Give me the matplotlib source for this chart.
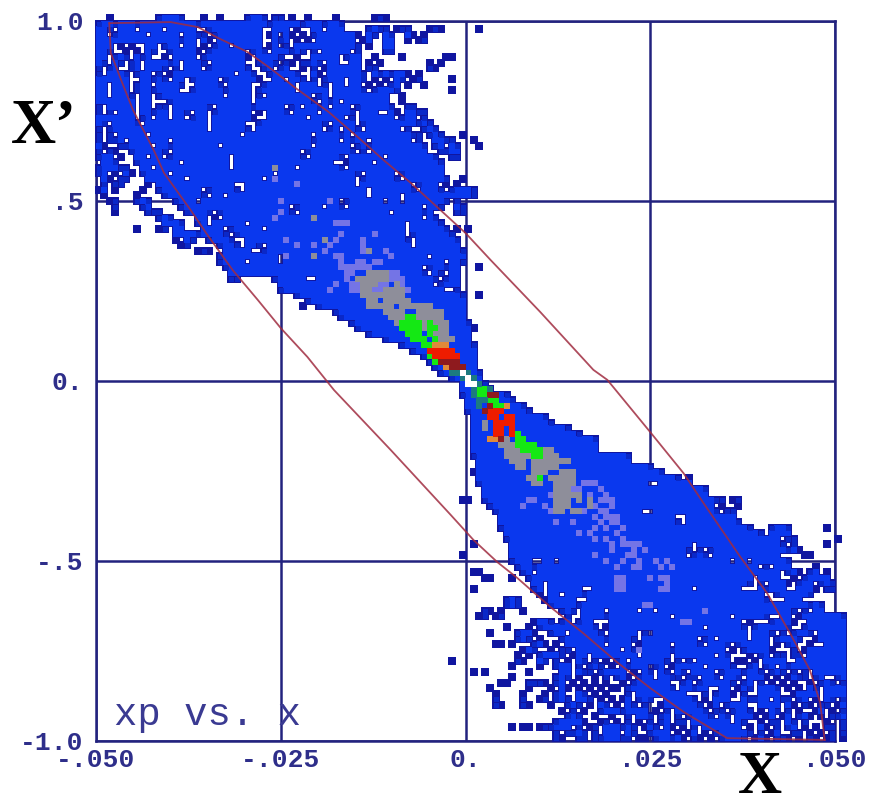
import numpy as np
import matplotlib
matplotlib.use("Agg")
import matplotlib.pyplot as plt

# histogram cells: row 0 is the top of the plot, column 0 the left
body_lo = [0,0,0,0,0,0,0,0,0,0,
           0,0,0,0,0,0,0,0,0,2,
           2,2,4,6,7,7,8,10,11,11,
           11,12,14,15,16,18,18,19,19,20,
           22,23,24,25,25,26,32,33,33,36,
           38,40,43,44,46,47,49,52,55,57,
           59,60,61,62,64,66,66,66,67,67,
           67,68,68,68,68,68,68,68,68,69,
           69,68,69,69,70,70,70,71,72,73,
           73,73,74,74,75,75,75,75,76,77,
           78,79,79,80,81,82,84,85,88,86,
           88,89,90,92,93,94,96,97,98,100,
           101,103,104,105,106,108,110,112,113,115]
body_hi = [44,44,44,44,44,44,43,43,46,48,
           48,47,48,51,52,52,50,52,52,53,
           54,55,56,57,57,58,60,61,62,61,
           62,63,63,62,60,61,62,63,64,65,
           65,66,66,66,65,65,65,65,65,66,
           66,66,66,66,67,67,67,67,68,68,
           68,68,68,69,69,70,71,74,75,77,
           78,81,82,85,87,90,90,90,96,96,
           100,102,105,106,108,110,112,111,112,114,
           116,118,120,122,124,125,122,125,130,132,
           133,133,133,130,130,131,131,135,135,135,
           135,135,135,135,135,135,135,135,135,135,
           135,135,135,135,135,135,135,135,135,135]

extra_cells = {
 -1:[2,11,12,13,14,15,19,22,27,28,29,30,32,33,35,38,43,50,51,52],
 1:[49,50,51,52,54,55,56,60,61,62,69],
 2:[45,46,47,49,50,52,53,56,57,59],
 3:[45,46,48,49,52,53,56,58,59],
 4:[45,46,47,49,52,53],
 5:[45,47,52,53],
 6:[45,46,47,50,55,63,64],
 7:[46,47,49,51,60,62],
 8:[47,49,50,60,61],
 9:[50,51,52,53,54,55,56,58],
 10:[50,52,54,55,57,58,64],
 11:[49,51,53,54,56,59],
 12:[50,51,52,53,54,64],
 13:[52,55],
 14:[55],
 15:[53,56,57],
 16:[53,54,56,57,58,59],
 17:[53,55,56,57,59],
 18:[53,54,55,56,57,58,59,60],
 19:[0,54,56,59,60,61],
 20:[0,55,56,57,58,60,61,62,66],
 21:[0,56,58,61,62,63,64,68],
 22:[0,1,57,58,59,61,62,64,65,69],
 23:[0,2,3,58,59,62,63,64,65],
 24:[0,1,2,4,58,59,60,61,64,65],
 25:[1,2,3,59,60,61,62],
 26:[0,1,2,3,4,5,61,62],
 27:[0,1,3,5,6,8,9,62],
 28:[1,2,4,5,9,10,63,66],
 29:[1,3,4,9,63,65],
 30:[0,1,3,8,64,65,66,67,68],
 31:[1,7,64,65,66,67,68],
 32:[2,3,7,8,9,65],
 33:[3,8,9,65,66],
 34:[3,9,10,11,65,66],
 35:[11,12,13],
 36:[12,13,14,15],
 37:[7,11,12,14,15,65,67],
 38:[14,15,16,17,18],
 39:[14,16,17],
 40:[15,16],
 41:[18,19,20],
 42:[22,23],
 43:[22,23,24],
 44:[23,24,26,27,28,29,30,31,69],
 45:[24,25,27,28,29,30,31],
 46:[24,25],
 49:[69],
 51:[37],
 55:[68],
 82:[107],
 83:[107],
 84:[109,110],
 86:[66,67,112,113,115,116],
 87:[113,116],
 88:[114,115],
 89:[115],
 91:[122,123,124,125,132],
 92:[119,120,122,123,124,125],
 93:[119,121,123,125,126,134],
 94:[68,126,132],
 95:[122,124,126,127],
 96:[66,121,123,128,129],
 99:[68,69],
 100:[70,71,75],
 102:[68],
 104:[74,75,76],
 105:[74,75,76],
 106:[70,71,73,77],
 107:[69,70,72,73],
 108:[79,80,81,82,84,85,87],
 109:[74,78,80,81,82,83,84,85],
 110:[71,76,77,78,79,82,83,84,86,87],
 111:[76,77,78,80,84,85,86,87,88],
 112:[72,73,75,79,80,81,83,85,86,87,88,89],
 113:[77,78,79,82,84,85,87,88,89,90,91],
 114:[76,78,80,81,82,83,84,86,87,88,90,91,92],
 115:[64,76,77,80,81,83,85,87,88,90,92],
 116:[75,80,83,84,85,87,89,90,91,93,95],
 117:[68,70,78,84,85,87,88,89,91,92,93,94,95],
 118:[75,83,84,85,87,90,92,94,95,96],
 119:[73,74,78,79,80,81,83,84,86,88,90,92,95,97,98,99],
 120:[71,78,82,84,85,87,89,91,93,94,96,97,98,99,100],
 121:[72,77,81,83,84,87,88,90,92,96,98,99,100,101,102],
 122:[72,77,80,81,83,84,85,87,88,89,91,93,95,96,98,99,100,103],
 123:[72,73,77,78,82,85,86,87,89,91,92,94,96,97,99,102,103,104],
 124:[84,86,88,91,92,93,94,95,96,97,98,99,101,103,105],
 125:[85,86,87,90,93,96,98,99,100,102,103,105,107],
 126:[83,84,85,86,87,88,91,92,94,96,98,100,102,103,105,106,108,109],
 127:[75,77,78,80,81,82,83,84,85,87,89,90,92,93,94,95,96,97,99,100,101,103,104,106,108,110,111],
 128:[83,85,86,87,88,90,92,93,94,96,97,100,101,102,103,105,107,108,110,112],
 129:[83,84,87,88,90,91,92,93,94,95,96,98,99,101,102,103,104,105,106,108,109,111,113,114],
}

hole_cells = {
 1:[3,7,12,18,19,30,31,35,37,38,41],
 2:[2,9,15,20,30,33,36,38],
 3:[18,21,30,31,35,37,39],
 4:[3,5,7,8,11,15,18,20,24,30,33,35],
 5:[3,4,6,8,11,12,19,27,31,38,40],
 6:[2,6,10,11,13,18,28,34,35,37,38],
 7:[2,5,8,15,20,27,28,33,36,41],
 8:[1,4,5,8,13,15,19,28,29,32,35,36,38,40],
 9:[1,6,10,12,25,29,30,37,38,41],
 10:[6,7,13,16,22,30,31,34,38,40,45],
 11:[2,6,10,16,17,23,28,29,36,40,42,45],
 12:[2,6,15,16,28,36,42],
 13:[2,7,10,23,28,30,39,42],
 14:[7,10,11,12,28,40,44],
 15:[1,7,10,13,21,34,37,42,46],
 16:[1,3,7,13,17,20,28,30,35,40,47],
 17:[7,10,13,16,20,29,30,38,45,47],
 18:[2,8,20,27,28,42,47],
 19:[20,28,41,44,48],
 20:[3,9,26,39,46],
 21:[5,13,44,49],
 22:[10,22,39,46],
 23:[13,37,47,49],
 24:[9,12,24,38,45,52],
 25:[15,24,43,44,50],
 26:[10,24,36,45],
 27:[13,32,48,54],
 28:[16,30,47,55],
 29:[25,26,47,57],
 30:[19,26,49,58],
 31:[20,23,49,55],
 32:[18,44,52,55],
 33:[35,41,45,59],
 34:[21,36,53],
 35:[20,22,59],
 36:[20,27,56],
 37:[23,30,56],
 38:[24,56],
 39:[25,26,57],
 40:[26,30,57],
 41:[28,29],
 42:[33,60],
 43:[27,33,63],
 44:[59],
 45:[60,63],
 46:[38,39,62],
 47:[61],
 48:[63,64],
 83:[100,101],
 88:[99,100],
 89:[105,106],
 90:[106],
 94:[108],
 95:[108,110],
 96:[107,111],
 97:[79,80,83,115,118],
 98:[120,122,126,127,128,129],
 99:[79,124,128,131],
 100:[119,124,125,127,133],
 101:[81,119,121,126,130],
 102:[81,88,89,108,117,118,119,125,126,131],
 103:[81,84,121,122,130],
 104:[87,88,122,123,124,128,129,130,131],
 106:[87,92,98,101,127,129],
 107:[86,87,104,115,122,123,126],
 108:[90,91,92,117,119,120,121,127,128],
 109:[91,110,118,126,127],
 110:[92,98,100,118,123,125,130],
 111:[98,109,112,118,122,128,129],
 112:[92,97,104,110,115,122,124,127,128,130,131],
 113:[95,98,114,116,123,124,125,127],
 114:[98,104,112,115,116,117,119,122,125,128],
 115:[96,104,106,108,115,118,120,125,126],
 116:[100,103,110,116,117,120,123],
 117:[98,101,104,107,112,121,125,127,129],
 118:[101,106,109,113,117,122,124,129,132,133],
 119:[104,105,108,116,119,121,123,125,127,128,130,134],
 120:[105,111,112,115,119,124,126,128,131],
 121:[107,108,109,111,116,118,119,124,125,131],
 122:[109,111,115,116,122,126,129,131,134],
 123:[110,113,118,119,124,127,130,133],
 124:[111,114,119,121,124,126,128,129,132,134],
 125:[112,115,120,123,126,130,132],
 126:[115,118,119,121,124,127,129,130,131,133,134],
 127:[117,119,122,124,127,129,131,134],
 128:[119,121,124,125,128,130,132,134],
 129:[118,122,126,128,131,134],
}

periwinkle_cells = {
 28:[32], 29:[36], 32:[33,42], 34:[33], 35:[32], 36:[43,44,45], 38:[50,44], 39:[34,43,48],
 40:[36,39,42,48], 41:[41,52,48], 42:[39,43,44,53,34], 43:[44,47,48,50,51], 44:[44,45,46,47,48,49],
 45:[45,46,53,54], 46:[45,53,54,55], 47:[43,46,47,51,52,55], 48:[42,46,47,50,51,56],
 83:[88,89,90], 84:[86,87,91], 85:[82,89,92], 86:[78,79,91,92,93], 87:[77,81,90,93],
 88:[82,88,91,92], 89:[90,92,93,94], 90:[83,86,91,93,94], 91:[90,92,95],
 92:[87,89,94], 93:[90,92,95], 94:[93,95,96,97,98], 95:[93,97,99], 96:[90,96,97],
 97:[92,95,98,101,103], 98:[94,97,98,102,104], 100:[94,95,100,102,103], 101:[94,95,103],
 102:[94,95,102,103], 105:[99,100], 106:[110], 108:[106,107], 113:[98],
}

gray_cells = {
 26:[32], 35:[39], 39:[41], 41:[49], 42:[39],
 45:[49,50,51,52], 46:[47,48,49,50,51,52], 47:[48,49,50,54], 48:[48,49,52,53,54,55],
 49:[48,49,50,51,52,53,54,55], 50:[49,50,52,53,54,55,56], 51:[49,50,51,52,53,55,56,57,58,59,60],
 52:[52,53,54,55,58,59,60,61,62], 53:[53,54,55,58,59,60,61,62], 54:[54,59,61,62,63],
 55:[59,62,63], 56:[61,62,63], 57:[62,63,64],
 71:[71], 72:[70], 73:[70,75], 74:[75], 75:[72,73,74], 76:[73,74,75],
 77:[74,75,76,81,82], 78:[74,75,76,77,78,81,82,83], 79:[75,76,77,79,80,81,82,83,84,85],
 80:[76,77,79,80,81,82,83], 81:[79,80,81,84,85,86], 82:[78,79,82,83,84,85,86],
 83:[79,80,83,84,85,86], 84:[83,84,85], 85:[83,84,85,86,87], 86:[83,84,85,87,89],
 87:[83,84,85,89], 88:[83,84,86,87],
}

green_cells = {
 53:[56,57], 54:[55,56,57,58,60], 55:[55,56,57,58,60,61], 56:[56,57,58,60], 57:[57,58,59,61],
 58:[59,60], 60:[60], 61:[61], 66:[69,70], 67:[69,70], 68:[71,72], 69:[72,73],
 74:[76], 75:[76,77], 76:[76,77,78,79], 77:[77,78,79,80], 78:[79,80], 82:[80],
}

red_cells = {
 59:[60,61,62,63,64], 60:[61,62,63,64,65],
 70:[71,72,73], 71:[71,72,74,75], 72:[72,73,74,75], 73:[72,73,75], 74:[72,73,75],
}

orange_cells = {58:[61,62,63], 62:[63], 69:[74], 75:[71,72]}
darkred_cells = {61:[62,63,64,65], 62:[64,65,66], 67:[71,72], 68:[70], 69:[71], 70:[70], 75:[73]}
teal_cells = {63:[64,65,67], 64:[66,68], 65:[69], 66:[68,71], 67:[68], 68:[69,70], 69:[69]}
white_core_cells = {63:[66], 64:[67], 65:[67,68]}

upper_x = [-0.0482,-0.0399,-0.0362,-0.0335,-0.0295,-0.0261,-0.0232,-0.0185,-0.0146,-0.0111,-0.0074,-0.0034,0.0,
           0.0034,0.0101,0.0173,0.0192,0.0250,0.0295,0.0322,0.0372,0.0408,0.0439,0.0466,0.0480,0.0486]
upper_y = [0.994,0.997,0.983,0.953,0.914,0.864,0.817,0.747,0.678,0.614,0.550,0.475,0.411,
           0.336,0.192,0.031,0.003,-0.142,-0.256,-0.339,-0.489,-0.589,-0.700,-0.803,-0.894,-0.997]
lower_x = [-0.0482,-0.0480,-0.0466,-0.0450,-0.0422,-0.0408,-0.0372,-0.0351,-0.0315,-0.0281,-0.0250,-0.0214,-0.0178,
           -0.0101,-0.0020,0.0011,0.0043,0.0070,0.0115,0.0159,0.0205,0.0250,0.0295,0.0354,0.0486]
lower_y = [0.994,0.911,0.836,0.753,0.642,0.578,0.475,0.411,0.308,0.225,0.147,0.067,-0.025,
           -0.192,-0.372,-0.442,-0.503,-0.547,-0.628,-0.700,-0.781,-0.853,-0.919,-0.992,-0.997]

x_ticks = [-0.05,-0.025,0.0,0.025,0.05]
x_labels = ["-.050","-.025","0.",".025",".050"]
y_ticks = [-1.0,-0.5,0.0,0.5,1.0]
y_labels = ["-1.0","-.5","0.",".5","1.0"]

NAVY = "#22227e"
BLUE = "#0a38ee"
RIM = "#1016a0"

# build the cell grid
n_rows, n_cols = 131, 136
grid = np.zeros((n_rows, n_cols), dtype=bool)
for r, (lo, hi) in enumerate(zip(body_lo, body_hi)):
    grid[r+1, lo:hi+1] = True
for r, cols in extra_cells.items():
    grid[r+1, cols] = True
for r, cols in hole_cells.items():
    grid[r+1, cols] = False
pad = np.pad(grid, 1)
free_sides = 4 - (pad[:-2,1:-1].astype(int) + pad[2:,1:-1] + pad[1:-1,:-2] + pad[1:-1,2:])

dx = 0.1/134
dy = 2.0/130
x_centers = -0.05 + dx*(np.arange(n_cols)+0.5)
y_centers = 1.0 + dy - dy*(np.arange(n_rows)+0.5)

def side(px):
    return (px*72/100)**2

fig = plt.figure(figsize=(8.72,7.99), dpi=100, facecolor="white")
ax = fig.add_axes([96/872, 58/799, 739/872, 720/799])
ax.set_xlim(-0.05,0.05)
ax.set_ylim(-1,1)
ax.grid(True, color=NAVY, lw=1.8, zorder=1)
ax.set_axisbelow(True)
for s in ax.spines.values():
    s.set_color(NAVY); s.set_linewidth(1.8); s.set_zorder(1)

def draw(mask_rows, mask_cols, color, px, z):
    ax.scatter(x_centers[mask_cols], y_centers[mask_rows], s=side(px), marker="s",
               c=color, linewidths=0, zorder=z, clip_on=False)

rr, cc = np.nonzero(grid)
draw(rr, cc, RIM, 7.8, 2)
rr, cc = np.nonzero(grid & (free_sides <= 1))
draw(rr, cc, BLUE, 6.4, 2.1)
rr, cc = np.nonzero(grid & (free_sides == 2))
draw(rr, cc, "#0a28c8", 5.0, 2.15)

for cells, color, z in [(periwinkle_cells,"#7474e6",2.2),(gray_cells,"#8e8e9a",2.3),(green_cells,"#14e814",2.4),
                        (orange_cells,"#e08a3a",2.5),(red_cells,"#ee1c00",2.6),(darkred_cells,"#8e1a1e",2.7),
                        (teal_cells,"#1c7a80",2.8),(white_core_cells,"#ffffff",2.9)]:
    rows = np.array([r+1 for r, cols in cells.items() for c in cols])
    cols_ = np.array([c for r, cols in cells.items() for c in cols])
    draw(rows, cols_, color, 6.0, z)

ax.plot(upper_x, upper_y, color="#a02c40", lw=1.3, alpha=0.85, zorder=3)
ax.plot(lower_x, lower_y, color="#a02c40", lw=1.3, alpha=0.85, zorder=3)

tick_font = dict(family="Liberation Mono", fontsize=19, color="#2e2e8a", fontweight="bold")
ax.set_xticks(x_ticks); ax.set_xticklabels(x_labels, **tick_font)
ax.set_yticks(y_ticks); ax.set_yticklabels(y_labels, **tick_font)
ax.tick_params(length=0, pad=5)
ax.tick_params(axis="y", pad=9)
ax.text(-0.0475, -0.955, "xp vs. x", family="Liberation Mono", fontsize=28, color="#3a3a92", ha="left", va="baseline")
fig.text(11/872, 1-143/799, "X\u2019", family="Liberation Serif", fontweight="bold", fontsize=45, color="black", ha="left", va="baseline")
fig.text(738/872, 1-793/799, "X", family="Liberation Serif", fontweight="bold", fontsize=44, color="black", ha="left", va="baseline")
fig.savefig("out.png", dpi=100)
